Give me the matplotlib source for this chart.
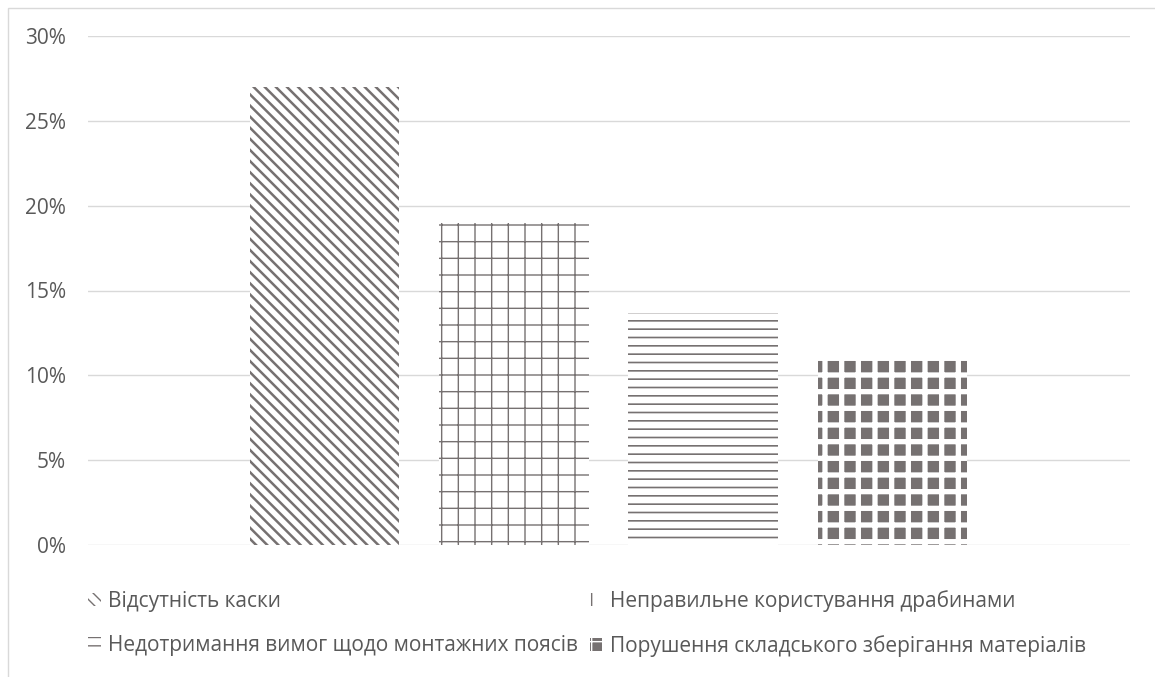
import matplotlib
matplotlib.use("Agg")
import matplotlib.pyplot as plt
from matplotlib.patches import Rectangle

# Частка порушень за видами
labels = [
    "Відсутність каски",
    "Неправильне користування драбинами",
    "Недотримання вимог щодо монтажних поясів",
    "Порушення складського зберігання матеріалів",
]
values = [27.0, 19.0, 13.7, 11.0]
y_ticks = [0, 5, 10, 15, 20, 25, 30]

plt.rcParams["font.family"] = ["Open Sans", "DejaVu Sans"]

W, H = 1155, 677
fig = plt.figure(figsize=(W / 100, H / 100), dpi=100)
ax = fig.add_axes([88 / W, 1 - 545 / H, (1130 - 88) / W, (545 - 36) / H])

gray = "#767171"
text_gray = "#595959"

# (hatch, face colour, hatch colour, hatch line width)
styles = [
    ("\\\\\\", "white", gray, 1.8),
    ("+", "white", gray, 1.0),
    ("--", "white", gray, 1.2),
    ("+", gray, "white", 3.8),
]

bars = []
for i, (lab, val) in enumerate(zip(labels, values)):
    hatch, face, hcol, hlw = styles[i]
    with plt.rc_context({"hatch.linewidth": hlw}):
        b = ax.bar(i, val, width=0.79, facecolor=face, edgecolor=hcol,
                   linewidth=0, hatch=hatch, label=lab, zorder=2)
    for p in b:
        if hasattr(p, "set_hatch_linewidth"):
            p.set_hatch_linewidth(hlw)
    bars.append(b)

ax.set_xlim(-1.249, 4.255)
ax.set_ylim(0, 30)
ax.set_yticks(y_ticks)
ax.set_yticklabels([f"{t}%" for t in y_ticks])
ax.set_xticks([])
ax.tick_params(axis="y", length=0, pad=16, labelsize=15, labelcolor=text_gray)
for s in ax.spines.values():
    s.set_visible(False)
ax.grid(axis="y", color="#d9d9d9", linewidth=1.0, zorder=0)
ax.set_axisbelow(True)

# легенда у два стовпці
order = [0, 2, 1, 3]
handles = [bars[i][0] for i in order]
leg = fig.legend(handles, [labels[i] for i in order], ncol=2,
                 loc="upper left", bbox_to_anchor=(88 / W, 1 - 590 / H),
                 frameon=False, fontsize=15, labelcolor=text_gray,
                 handlelength=0.6, handleheight=0.6, handletextpad=0.38,
                 columnspacing=0.55, labelspacing=1.12, borderpad=0,
                 borderaxespad=0)

# рамка області діаграми
fig.add_artist(Rectangle((7.5 / W, -0.1), 2, 1.1 - 7.5 / H,
                         transform=fig.transFigure, fill=False,
                         edgecolor="#d9d9d9", linewidth=1.0))

fig.savefig("out.png", dpi=100)
